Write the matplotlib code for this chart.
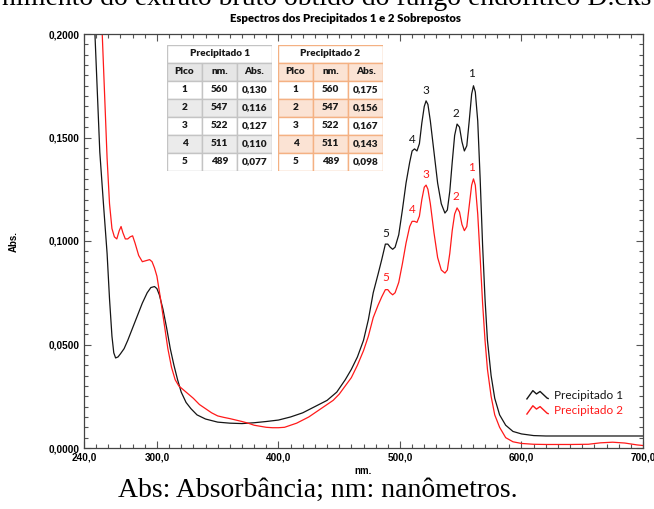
import numpy as np
import matplotlib
matplotlib.use("Agg")
import matplotlib.pyplot as plt
from matplotlib.patches import Rectangle
from matplotlib.lines import Line2D
from matplotlib.legend_handler import HandlerBase
from matplotlib.ticker import MultipleLocator

# =========================
# Data
# =========================
PICO = [1, 2, 3, 4, 5]
PICO_NM = [560, 547, 522, 511, 489]
ABS_TAB_1 = [0.130, 0.116, 0.127, 0.110, 0.077]
ABS_TAB_2 = [0.175, 0.156, 0.167, 0.143, 0.098]

# black spectrum (Precipitado 1)
NM_BLACK = [246, 249, 253, 256, 259, 261, 263, 264.5, 266, 268, 270, 273, 276, 280,
            284, 288, 292, 295, 298, 300, 302, 305, 308, 311, 314, 317, 320, 324,
            328, 333, 340, 350, 360, 370, 380, 390, 400, 410, 420, 430, 440, 448,
            455, 460, 465, 470, 474, 478, 482, 485, 488, 490, 492, 494, 496, 499,
            502, 505, 508, 510, 512, 514, 516, 518, 520, 521.5, 523, 525, 528, 531,
            534, 537, 539, 541, 543, 545, 547, 549, 551, 553, 555, 557, 559, 560.5,
            562, 564, 566, 568, 570, 572, 575, 578, 582, 587, 593, 600, 610, 620,
            640, 660, 680, 700]
ABS_BLACK = [0.230, 0.200, 0.143, 0.118, 0.094, 0.072, 0.054, 0.046, 0.0435, 0.044,
             0.0455, 0.048, 0.052, 0.058, 0.064, 0.070, 0.075, 0.0775, 0.078, 0.077,
             0.074, 0.067, 0.058, 0.048, 0.040, 0.033, 0.027, 0.022, 0.019, 0.016,
             0.014, 0.0125, 0.012, 0.0118, 0.0122, 0.0128, 0.0135, 0.015, 0.017,
             0.020, 0.023, 0.027, 0.033, 0.038, 0.044, 0.052, 0.062, 0.075, 0.084,
             0.091, 0.0985, 0.0985, 0.097, 0.096, 0.097, 0.103, 0.115, 0.128, 0.138,
             0.1435, 0.1445, 0.1435, 0.147, 0.157, 0.165, 0.1677, 0.166, 0.158,
             0.143, 0.128, 0.118, 0.1135, 0.115, 0.124, 0.138, 0.151, 0.1565, 0.155,
             0.148, 0.1435, 0.146, 0.158, 0.171, 0.175, 0.172, 0.158, 0.130, 0.098,
             0.072, 0.052, 0.035, 0.024, 0.016, 0.011, 0.008, 0.0068, 0.006, 0.0058,
             0.0058, 0.0058, 0.0058, 0.0058]

# red spectrum (Precipitado 2)
NM_RED = [252, 255, 257, 259, 261, 263, 265, 267, 269, 270.5, 272, 274, 276, 278,
          280, 282, 285, 288, 291, 294, 296, 298, 300, 303, 306, 309, 312, 315, 318,
          322, 326, 330, 335, 340, 345, 350, 355, 360, 365, 370, 375, 380, 385, 390,
          395, 400, 405, 410, 415, 420, 425, 430, 435, 440, 445, 450, 455, 460, 465,
          470, 474, 478, 482, 485, 488, 490, 492, 494, 496, 499, 502, 505, 508, 510,
          512, 514, 516, 518, 520, 521.5, 523, 525, 528, 531, 534, 537, 539, 541,
          543, 545, 547, 549, 551, 553, 555, 557, 559, 560.5, 562, 564, 566, 568,
          570, 572, 575, 578, 582, 587, 593, 600, 610, 620, 640, 655, 665, 675, 685,
          695, 700]
ABS_RED = [0.230, 0.200, 0.170, 0.140, 0.118, 0.106, 0.102, 0.101, 0.105, 0.107,
           0.104, 0.101, 0.101, 0.102, 0.1025, 0.099, 0.093, 0.090, 0.0905, 0.091,
           0.090, 0.087, 0.083, 0.072, 0.060, 0.048, 0.039, 0.033, 0.030, 0.028,
           0.026, 0.024, 0.021, 0.019, 0.017, 0.0155, 0.0148, 0.0142, 0.0135, 0.0128,
           0.012, 0.011, 0.0105, 0.010, 0.0098, 0.0098, 0.010, 0.011, 0.012, 0.0135,
           0.015, 0.017, 0.019, 0.021, 0.023, 0.026, 0.030, 0.034, 0.040, 0.047,
           0.054, 0.063, 0.069, 0.073, 0.0765, 0.0765, 0.075, 0.074, 0.075, 0.080,
           0.089, 0.099, 0.107, 0.1095, 0.1095, 0.109, 0.112, 0.120, 0.126, 0.127,
           0.125, 0.118, 0.104, 0.092, 0.086, 0.0845, 0.086, 0.094, 0.105, 0.113,
           0.116, 0.114, 0.108, 0.105, 0.107, 0.117, 0.127, 0.130, 0.127, 0.113,
           0.092, 0.070, 0.052, 0.038, 0.025, 0.016, 0.010, 0.005, 0.003, 0.0022,
           0.0018, 0.0017, 0.0017, 0.0018, 0.0025, 0.0028, 0.0024, 0.0015, 0.0012]

X_TICKS = [240, 300, 400, 500, 600, 700]
X_TICK_LABELS = ["240,0", "300,0", "400,0", "500,0", "600,0", "700,0"]
Y_TICKS = [0.0, 0.05, 0.10, 0.15, 0.20]
Y_TICK_LABELS = ["0,0000", "0,0500", "0,1000", "0,1500", "0,2000"]

BLACK = "#151515"
RED = "#ff1a1a"
SANS = ["Lato", "DejaVu Sans"]
ARIAL = ["Liberation Sans", "DejaVu Sans"]


class WaveHandler(HandlerBase):
    """Small spectrum-like icon used as legend handle."""

    def create_artists(self, legend, orig_handle, xdescent, ydescent,
                       width, height, fontsize, trans):
        fx = np.array([0.0, 0.28, 0.45, 0.62, 0.95, 1.0])
        fy = np.array([0.0, 1.0, 0.6, 0.9, 0.1, 0.05])
        line = Line2D(fx * width - xdescent, fy * height - ydescent,
                      color=orig_handle.get_color(), lw=1.0)
        line.set_transform(trans)
        return [line]


def draw_table(fig, rect, title, abs_values, edge, head_bg, stripe_bg):
    tax = fig.add_axes(rect)
    tax.set_xlim(0, 3)
    tax.set_ylim(7, 0)
    tax.axis("off")
    kw = dict(ha="center", va="center", fontsize=7.2, fontweight="heavy",
              family=SANS, color="#1a1a1a")

    tax.add_patch(Rectangle((0, 0), 3, 1, facecolor="white", edgecolor=edge, lw=1))
    tax.text(1.5, 0.5, title, **kw)
    for c, head in enumerate(["Pico", "nm.", "Abs."]):
        tax.add_patch(Rectangle((c, 1), 1, 1, facecolor=head_bg, edgecolor=edge, lw=1))
        tax.text(c + 0.5, 1.5, head, **kw)
    for r in range(5):
        bg = stripe_bg if r % 2 == 1 else "white"
        row = [str(PICO[r]), str(PICO_NM[r]), f"{abs_values[r]:.3f}".replace(".", ",")]
        for c, val in enumerate(row):
            tax.add_patch(Rectangle((c, r + 2), 1, 1, facecolor=bg, edgecolor=edge, lw=1))
            tax.text(c + 0.5, r + 2.5, val, **kw)


def make_plot(output_file="out.png"):
    W, H = 654, 509
    fig = plt.figure(figsize=(W / 100, H / 100), dpi=100)
    ax = fig.add_axes([84 / W, (H - 448) / H, (643 - 84) / W, (448 - 34) / H])

    ax.plot(NM_BLACK, ABS_BLACK, color=BLACK, lw=0.9)
    ax.plot(NM_RED, ABS_RED, color=RED, lw=0.9)
    ax.set_xlim(240, 700)
    ax.set_ylim(0, 0.2)

    ax.set_xticks(X_TICKS)
    ax.set_xticklabels(X_TICK_LABELS)
    ax.set_yticks(Y_TICKS)
    ax.set_yticklabels(Y_TICK_LABELS)
    ax.xaxis.set_minor_locator(MultipleLocator(10))
    ax.yaxis.set_minor_locator(MultipleLocator(0.005))
    ax.tick_params(which="both", direction="in", top=True, right=True,
                   color="#555555", width=0.8)
    ax.tick_params(which="major", length=5, labelsize=7.2, pad=3)
    ax.tick_params(which="minor", length=3)
    for lab in ax.get_xticklabels() + ax.get_yticklabels():
        lab.set_fontweight("bold")
        lab.set_family(ARIAL)
    for sp in ax.spines.values():
        sp.set_color("#444444")
        sp.set_linewidth(0.9)

    ax.set_xlabel("nm.", fontsize=7, fontweight="bold", family=ARIAL, labelpad=3)
    ax.set_ylabel("Abs.", fontsize=7, fontweight="bold", family=ARIAL, labelpad=22)

    # peak numbers
    for i, nm in enumerate(PICO_NM):
        ax.annotate(str(PICO[i]), (nm, ABS_TAB_2[i]), xytext=(-1, 12),
                    textcoords="offset pixels", ha="center", va="center",
                    fontsize=8.5, family=SANS, color=BLACK)
        ax.annotate(str(PICO[i]), (nm, ABS_TAB_1[i]), xytext=(-1, 11),
                    textcoords="offset pixels", ha="center", va="center",
                    fontsize=8.5, family=SANS, color=RED)

    h1 = Line2D([], [], color=BLACK)
    h2 = Line2D([], [], color=RED)
    leg = ax.legend([h1, h2], ["Precipitado 1", "Precipitado 2"],
                    handler_map={Line2D: WaveHandler()},
                    loc="upper left", bbox_to_anchor=(521 / W, 1 - 384 / H),
                    bbox_transform=fig.transFigure, frameon=False,
                    prop={"family": SANS, "size": 8.5}, handlelength=1.8,
                    handletextpad=0.5, labelspacing=0.35, borderpad=0)
    leg.get_texts()[0].set_color(BLACK)
    leg.get_texts()[1].set_color(RED)

    fig.text(345 / W, 1 - 18 / H, "Espectros dos Precipitados 1 e 2 Sobrepostos",
             ha="center", va="center", fontsize=8.2, fontweight="heavy", family=SANS)

    # surrounding document text (the line above is cut by the crop)
    fig.text(327 / W, 1 - 5 / H,
             "nimento do extrato bruto obtido do fungo endofítico D.cks",
             ha="center", va="baseline", fontsize=20, family="Liberation Serif")
    fig.text(318 / W, 1 - 490 / H, "Abs: Absorbância; nm: nanômetros.",
             ha="center", va="center", fontsize=20, family="Liberation Serif")

    draw_table(fig, [167 / W, (H - 171) / H, 105 / W, 126 / H], "Precipitado 1",
               ABS_TAB_1, "#c4c4c4", "#e6e6e6", "#ebebeb")
    draw_table(fig, [278 / W, (H - 171) / H, 105 / W, 126 / H], "Precipitado 2",
               ABS_TAB_2, "#f4b183", "#fbe3d4", "#fbe3d4")

    fig.savefig(output_file, dpi=100)
    plt.close(fig)


if __name__ == "__main__":
    make_plot("out.png")
